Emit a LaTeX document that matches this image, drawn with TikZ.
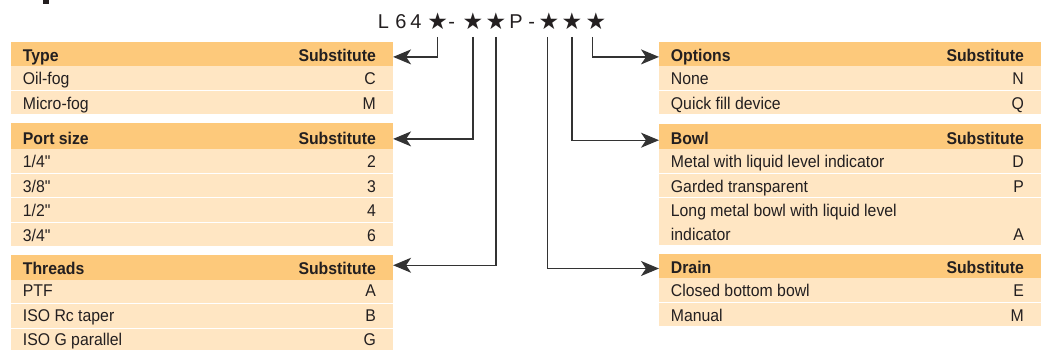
\documentclass[tikz,border=0pt]{standalone}
\usepackage{fontspec}
\usepackage{xcolor}
\newfontfamily\tabfont{Liberation Sans}[FakeStretch=0.93]
\newfontfamily\codefont{Liberation Sans}
\newfontfamily\starfont{DejaVu Sans}
\usetikzlibrary{arrows.meta}
\definecolor{hdfill}{HTML}{FDC97B}
\definecolor{rowfill}{HTML}{FFE6C3}
\definecolor{ink}{HTML}{231F20}
\definecolor{wire}{HTML}{333333}

\begin{document}
\begin{tikzpicture}[x=1pt,y=-1pt,
  hdbar/.style={fill=hdfill,draw=none,inner sep=0pt,anchor=north west,minimum width=381.7pt},
  hdtxt/.style={text=ink,inner sep=0pt,font=\tabfont\bfseries\fontsize{17}{17}\selectfont},
  rowtxt/.style={text=ink,inner sep=0pt,font=\tabfont\fontsize{17}{17}\selectfont},
  codechar/.style={text=ink,inner sep=0pt,anchor=base,font=\codefont\fontsize{20}{20}\selectfont},
  codestar/.style={text=ink,inner sep=0pt,anchor=base,text depth=0pt,font=\starfont\fontsize{23}{23}\selectfont},
  link/.style={draw=wire,line width=1.3pt,-{Stealth[length=18pt,width=15pt,inset=5pt]}}]
\useasboundingbox (0,0) rectangle (1046,349);
% cut-off heading
\fill[ink] (42.7,0) rectangle (49.3,4.3);

% the code
\foreach \ch/\x [count=\i] in {L/383.5,6/401,4/416,-/451.7,P/516,-/531.7}
  \node[codechar] (c\i) at (\x,28.5) {\ch};
\foreach \x [count=\i] in {437.8,473,496,549,572,596}
  \node[codestar] (s\i) at (\x,29.5) {★};

% Type
\node[hdbar,minimum height=24pt] (typehd) at (11,42) {};
\node[hdtxt,anchor=base west] (typet) at (22.7,61) {Type};
\node[hdtxt,anchor=base east] (types) at (376,61) {Substitute};
\foreach \txt/\val [count=\i, evaluate=\i as \yt using 66+(\i-1)*24.5] in {Oil-fog/C,Micro-fog/M}{
  \fill[rowfill] (11,\yt) rectangle (392.7,\yt+23.5);
  \node[rowtxt,anchor=base west] (type\i) at (22.7,\yt+18.5) {\txt};
  \node[rowtxt,anchor=base east] (typev\i) at (376,\yt+18.5) {\val};
}

% Port size
\node[hdbar,minimum height=26pt] (porthd) at (11,123) {};
\node[hdtxt,anchor=base west] (portt) at (22.7,144) {Port size};
\node[hdtxt,anchor=base east] (ports) at (376,144) {Substitute};
\foreach \txt/\val [count=\i, evaluate=\i as \yt using 149+(\i-1)*24.5] in {{1/4"}/2,{3/8"}/3,{1/2"}/4,{3/4"}/6}{
  \fill[rowfill] (11,\yt) rectangle (392.7,\yt+23.5);
  \node[rowtxt,anchor=base west] (port\i) at (22.7,\yt+18.5) {\txt};
  \node[rowtxt,anchor=base east] (portv\i) at (376,\yt+18.5) {\val};
}

% Threads
\node[hdbar,minimum height=24.5pt] (threadhd) at (11,255) {};
\node[hdtxt,anchor=base west] (threadt) at (22.7,274.5) {Threads};
\node[hdtxt,anchor=base east] (threads) at (376,274.5) {Substitute};
\foreach \txt/\val [count=\i, evaluate=\i as \yt using 279.5+(\i-1)*24.5] in {PTF/A,ISO Rc taper/B,ISO G parallel/G}{
  \fill[rowfill] (11,\yt) rectangle (392.7,\yt+23.5);
  \node[rowtxt,anchor=base west] (thread\i) at (22.7,\yt+17) {\txt};
  \node[rowtxt,anchor=base east] (threadv\i) at (376,\yt+17) {\val};
}

% Options
\node[hdbar,minimum height=24pt] (opthd) at (659,42) {};
\node[hdtxt,anchor=base west] (optt) at (670.7,61) {Options};
\node[hdtxt,anchor=base east] (opts) at (1024,61) {Substitute};
\foreach \txt/\val [count=\i, evaluate=\i as \yt using 66+(\i-1)*24.5] in {None/N,Quick fill device/Q}{
  \fill[rowfill] (659,\yt) rectangle (1040.7,\yt+23.5);
  \node[rowtxt,anchor=base west] (opt\i) at (670.7,\yt+18.5) {\txt};
  \node[rowtxt,anchor=base east] (optv\i) at (1024,\yt+18.5) {\val};
}

% Bowl
\node[hdbar,minimum height=25pt] (bowlhd) at (659,124) {};
\node[hdtxt,anchor=base west] (bowlt) at (670.7,144) {Bowl};
\node[hdtxt,anchor=base east] (bowls) at (1024,144) {Substitute};
\foreach \txt/\val [count=\i, evaluate=\i as \yt using 149+(\i-1)*24.5] in {Metal with liquid level indicator/D,Garded transparent/P}{
  \fill[rowfill] (659,\yt) rectangle (1040.7,\yt+23.5);
  \node[rowtxt,anchor=base west] (bowl\i) at (670.7,\yt+18.5) {\txt};
  \node[rowtxt,anchor=base east] (bowlv\i) at (1024,\yt+18.5) {\val};
}
\fill[rowfill] (659,198) rectangle (1040.7,245);
\node[rowtxt,anchor=base west] (bowl3) at (670.7,216.5) {Long metal bowl with liquid level};
\node[rowtxt,anchor=base west] (bowl3b) at (670.7,240) {indicator};
\node[rowtxt,anchor=base east] (bowlv3) at (1024,240) {A};

% Drain
\node[hdbar,minimum height=24pt] (drainhd) at (659,254) {};
\node[hdtxt,anchor=base west] (draint) at (670.7,273) {Drain};
\node[hdtxt,anchor=base east] (drains) at (1024,273) {Substitute};
\foreach \txt/\val [count=\i, evaluate=\i as \yt using 278+(\i-1)*24.5] in {Closed bottom bowl/E,Manual/M}{
  \fill[rowfill] (659,\yt) rectangle (1040.7,\yt+23.5);
  \node[rowtxt,anchor=base west] (drain\i) at (670.7,\yt+18.5) {\txt};
  \node[rowtxt,anchor=base east] (drainv\i) at (1024,\yt+18.5) {\val};
}

% connectors
\draw[link,shorten <=7.2pt] (s1.south) |- ([yshift=-2.7pt]typehd.east);
\draw[link,shorten <=7.2pt] (s2.south) |- ([yshift=-2.7pt]porthd.east);
\draw[link,shorten <=7.2pt] (s3.south) |- ([yshift=2.2pt]threadhd.east);
\draw[link,shorten <=7.2pt] ([xshift=-1.5pt]s4.south) |- ([yshift=-2.3pt]drainhd.west);
\draw[link,shorten <=7.2pt] (s5.south) |- ([yshift=-3.5pt]bowlhd.west);
\draw[link,shorten <=7.2pt] ([xshift=-3.5pt]s6.south) |- ([yshift=-2.7pt]opthd.west);
\end{tikzpicture}
\end{document}
